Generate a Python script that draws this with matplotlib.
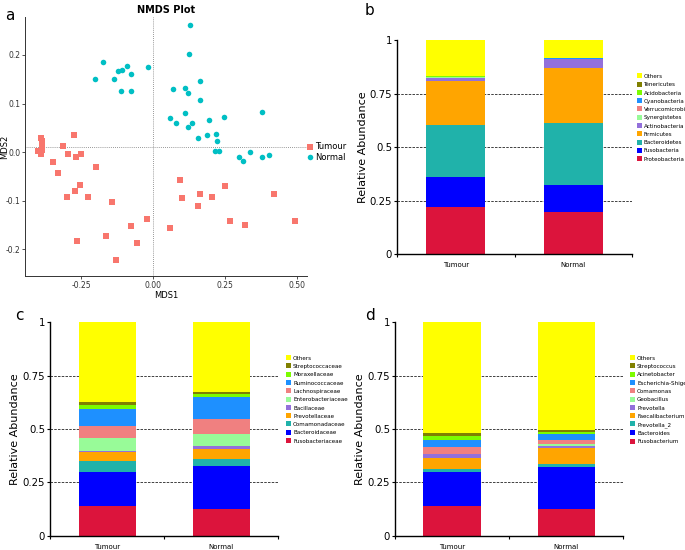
import numpy as np
import matplotlib.pyplot as plt
from matplotlib import font_manager as fm
from matplotlib.patches import Patch

# ---- panel a: NMDS coordinates ----
tumour_x = [-0.391, -0.387, -0.386, -0.388, -0.401, -0.392, -0.386, -0.277, -0.314, -0.298,
            -0.270, -0.252, -0.348, -0.333, -0.198, -0.256, -0.271, -0.299, -0.228, -0.144,
            -0.265, -0.163, -0.128, -0.076, -0.055, -0.022, 0.060, 0.095, 0.099, 0.163,
            0.158, 0.205, 0.249, 0.267, 0.320, 0.421, 0.493]
tumour_y = [0.029, 0.023, 0.017, 0.010, 0.003, -0.004, 0.004, 0.035, 0.013, -0.003,
            -0.009, -0.004, -0.021, -0.043, -0.030, -0.068, -0.079, -0.093, -0.093, -0.103,
            -0.182, -0.173, -0.222, -0.152, -0.187, -0.137, -0.156, -0.057, -0.095, -0.087,
            -0.110, -0.092, -0.069, -0.142, -0.149, -0.086, -0.142]
normal_x = [0.128, 0.126, -0.174, -0.203, -0.138, -0.122, -0.107, -0.091, -0.078, -0.112,
            -0.077, -0.017, 0.070, 0.110, 0.123, 0.163, 0.163, 0.057, 0.079, 0.112,
            0.120, 0.137, 0.193, 0.247, 0.155, 0.186, 0.220, 0.221, 0.217, 0.229,
            0.338, 0.298, 0.314, 0.379, 0.379, 0.403]
normal_y = [0.262, 0.201, 0.185, 0.151, 0.150, 0.166, 0.170, 0.177, 0.160, 0.125,
            0.125, 0.175, 0.130, 0.133, 0.122, 0.146, 0.108, 0.071, 0.060, 0.080,
            0.052, 0.060, 0.066, 0.073, 0.030, 0.035, 0.038, 0.022, 0.002, 0.003,
            0.001, -0.010, -0.019, 0.082, -0.009, -0.006]

groups = ["Tumour", "Normal"]

# ---- panel b: phylum ----
phylum = ["Proteobacteria", "Fusobacteria", "Bacteroidetes", "Firmicutes", "Actinobacteria",
          "Synergistetes", "Verrucomicrobia", "Cyanobacteria", "Acidobacteria", "Tenericutes", "Others"]
phylum_tumour = [0.222, 0.140, 0.243, 0.204, 0.014, 0.003, 0.001, 0.003, 0.001, 0.001, 0.168]
phylum_normal = [0.198, 0.125, 0.291, 0.255, 0.041, 0.002, 0.001, 0.003, 0.001, 0.001, 0.082]

# ---- panel c: family ----
family = ["Fusobacteriaceae", "Bacteroidaceae", "Comamonadaceae", "Prevotellaceae", "Bacillaceae",
          "Enterobacteriaceae", "Lachnospiraceae", "Ruminococcaceae", "Moraxellaceae",
          "Streptococcaceae", "Others"]
family_tumour = [0.139, 0.159, 0.052, 0.044, 0.003, 0.059, 0.058, 0.078, 0.019, 0.015, 0.374]
family_normal = [0.125, 0.201, 0.034, 0.045, 0.016, 0.057, 0.067, 0.103, 0.014, 0.009, 0.329]

# ---- panel d: genus ----
genus = ["Fusobacterium", "Bacteroides", "Prevotella_2", "Faecalibacterium", "Prevotella",
         "Geobacillus", "Comamonas", "Escherichia-Shigella", "Acinetobacter", "Streptococcus", "Others"]
genus_tumour = [0.139, 0.160, 0.013, 0.052, 0.018, 0.003, 0.031, 0.031, 0.020, 0.013, 0.520]
genus_normal = [0.125, 0.197, 0.016, 0.072, 0.010, 0.008, 0.020, 0.030, 0.010, 0.009, 0.503]

colors = ["#DC143C", "#0000FF", "#20B2AA", "#FFA500", "#9370DB", "#98FB98",
          "#F08080", "#1E90FF", "#7CFC00", "#808000", "#FFFF00"]


def narrow_font(size):
    # look for a condensed face; fall back to Liberation Sans (narrower than DejaVu)
    cands = [dict(family="Liberation Sans Narrow"),
             dict(family="DejaVu Sans", stretch="condensed"),
             dict(family="Noto Sans", stretch="condensed"),
             dict(family="Roboto Condensed"),
             dict(family="Open Sans", stretch="condensed")]
    for c in cands:
        try:
            path = fm.findfont(fm.FontProperties(**c), fallback_to_default=False)
        except Exception:
            continue
        if "Narrow" in path or "Condensed" in path or "Cond" in path:
            return fm.FontProperties(fname=path, size=size)
    return fm.FontProperties(family="Liberation Sans", size=size * 0.92)


leg_font = narrow_font(4.5)

fig = plt.figure(figsize=(6.85, 5.5), dpi=100)

# ---------- a ----------
ax = fig.add_axes([0.0365, 0.498, 0.4115, 0.471])
ax.axvline(0, color="#777777", ls=(0, (1, 1.5)), lw=0.6, zorder=1)
ax.axhline(0.01, color="#777777", ls=(0, (1, 1.5)), lw=0.6, zorder=1)
ax.scatter(tumour_x, tumour_y, marker="s", s=14, color="#F8766D", label="Tumour", zorder=2, lw=0)
ax.scatter(normal_x, normal_y, marker="o", s=16, color="#00BFC4", label="Normal", zorder=2, lw=0)
ax.set_xlim(-0.447, 0.536)
ax.set_ylim(-0.255, 0.278)
ax.set_xticks([-0.25, 0, 0.25, 0.5])
ax.set_xticklabels(["-0.25", "0.00", "0.25", "0.50"])
ax.set_yticks([-0.2, -0.1, 0, 0.1, 0.2])
ax.set_yticklabels(["-0.2", "-0.1", "0.0", "0.1", "0.2"])
ax.tick_params(labelsize=5.5, length=2, width=0.6, pad=1.5, colors="#333333")
for s in ["top", "right"]:
    ax.spines[s].set_visible(False)
for s in ["left", "bottom"]:
    ax.spines[s].set_linewidth(0.7)
    ax.spines[s].set_color("#333333")
ax.set_title("NMDS Plot", fontsize=7, fontweight="bold", pad=3)
ax.set_xlabel("MDS1", fontsize=6, labelpad=1)
ax.set_ylabel("MDS2", fontsize=6)
ax.yaxis.set_label_coords(-0.055, 0.5)
ax.legend(loc="center left", bbox_to_anchor=(0.995, 0.48), frameon=False, fontsize=6,
          handletextpad=0.1, borderaxespad=0, borderpad=0, labelspacing=0.2,
          handlelength=1, markerscale=1)
fig.text(0.007, 0.985, "a", fontsize=11, va="top")


def stacked(rect, names, tumour, normal, letter, letter_xy, leg_x, ylab_x):
    ax = fig.add_axes(rect)
    x = np.arange(len(groups))
    for yv in [0.25, 0.5, 0.75]:
        ax.axhline(yv, color="#222222", ls=(0, (3, 1.5)), lw=0.6, zorder=0)
    bottom = np.zeros(2)
    for col, t, n in zip(colors, tumour, normal):
        vals = np.array([t, n])
        ax.bar(x, vals, width=0.5, bottom=bottom, color=col, zorder=2, lw=0)
        bottom += vals
    ax.set_xlim(-0.5, 1.5)
    ax.set_ylim(0, 1)
    ax.set_yticks([0, 0.25, 0.5, 0.75, 1])
    ax.set_yticklabels(["0", "0.25", "0.5", "0.75", "1"])
    ax.set_xticks(x)
    ax.set_xticklabels(groups)
    ax.set_xticks([-0.5, 0.5, 1.5], minor=True)
    ax.tick_params(axis="x", which="major", length=0, labelsize=5, pad=6)
    ax.tick_params(axis="x", which="minor", length=2.5, width=0.8)
    ax.tick_params(axis="y", labelsize=7.3, length=2.5, width=0.8, pad=1)
    for s in ["top", "right"]:
        ax.spines[s].set_visible(False)
    for s in ["left", "bottom"]:
        ax.spines[s].set_linewidth(1.0)
    ax.set_ylabel("Relative Abundance", fontsize=8)
    ax.yaxis.set_label_coords(ylab_x, 0.5)
    handles = [Patch(facecolor=c, edgecolor="none") for c in colors]
    ax.legend(handles[::-1], names[::-1], loc="upper left", bbox_to_anchor=(leg_x, 0.845),
              frameon=False, handlelength=0.85, handleheight=0.85,
              handletextpad=0.3, labelspacing=0.42, borderpad=0, borderaxespad=0,
              prop=leg_font)
    fig.text(letter_xy[0], letter_xy[1], letter, fontsize=11, va="top")
    return ax


stacked([0.5796, 0.538, 0.343, 0.389], phylum, phylum_tumour, phylum_normal, "b", (0.533, 0.995),
        1.02, -0.125)
stacked([0.073, 0.0255, 0.333, 0.389], family, family_tumour, family_normal, "c", (0.022, 0.44),
        1.034, -0.13)
stacked([0.5766, 0.0255, 0.333, 0.389], genus, genus_tumour, genus_normal, "d", (0.533, 0.44),
        1.03, -0.13)

fig.savefig("out.png", dpi=100)
